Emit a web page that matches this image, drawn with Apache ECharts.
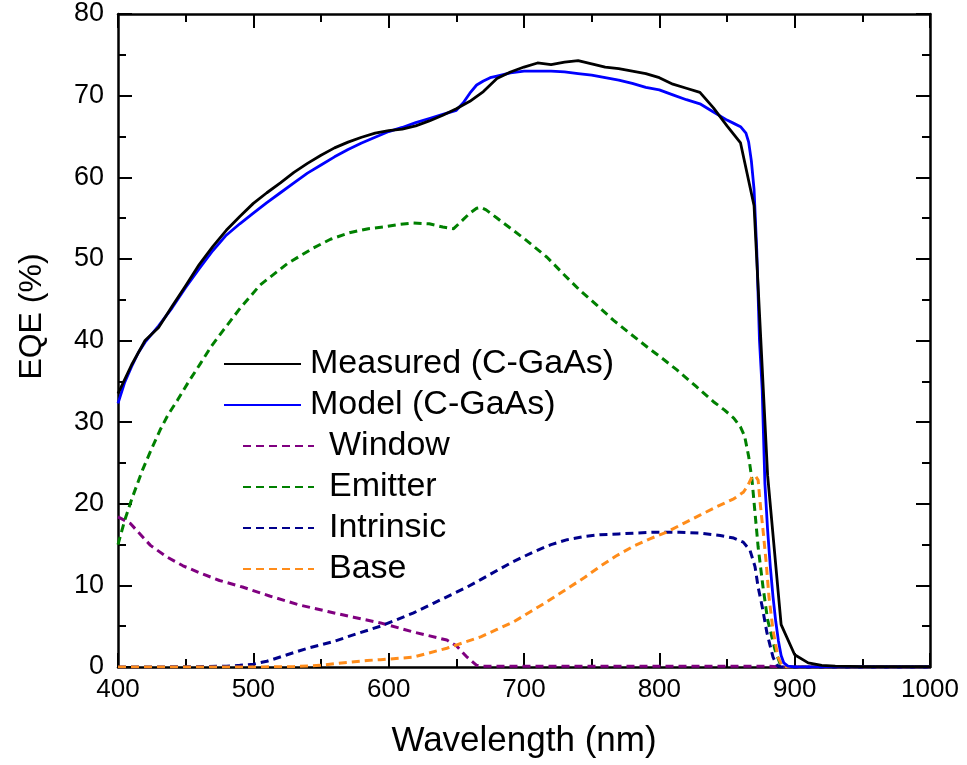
<!DOCTYPE html>
<html>
<head>
<meta charset="utf-8">
<script src="https://cdn.jsdelivr.net/npm/echarts@6/dist/echarts.min.js"></script>
<style>html,body{margin:0;padding:0;background:#fff;}#c{width:967px;height:765px;}</style>
</head>
<body>
<div id="c"></div>
<script>
// ---- data ----
const xTicks = [400, 500, 600, 700, 800, 900, 1000];
const yTicks = [0, 10, 20, 30, 40, 50, 60, 70, 80];

const measuredWl  = [400,410,420,430,440,450,460,470,480,490,500,510,520,530,540,550,560,570,580,590,600,610,620,630,640,650,660,670,680,690,700,710,720,730,740,750,760,770,780,790,800,810,820,830,840,850,860,870,880,890,900,910,920,930,950,1000];
const measuredEqe = [33.5,37.0,40.0,41.6,44.2,46.7,49.3,51.5,53.5,55.2,56.8,58.1,59.3,60.6,61.7,62.7,63.6,64.3,64.9,65.4,65.7,65.9,66.3,66.9,67.6,68.4,69.3,70.5,72.1,72.9,73.5,74.0,73.8,74.1,74.3,73.9,73.5,73.3,73.0,72.7,72.2,71.4,70.9,70.4,68.5,66.3,64.2,56.5,23.5,5.2,1.5,0.5,0.2,0.1,0.05,0.05];

const modelWl  = [400,405,410,415,420,430,440,450,460,470,480,490,500,510,520,530,540,550,560,570,580,590,600,610,620,630,640,650,655,660,665,670,675,680,690,700,710,720,730,740,750,760,770,780,790,800,810,820,830,840,850,855,860,864,866,868,870,872,874,876,878,880,882,884,886,888,890,892,895,900,1000];
const modelEqe = [32.3,34.9,36.8,38.5,39.8,41.8,44.0,46.5,48.8,51.0,52.9,54.3,55.6,56.9,58.1,59.3,60.5,61.5,62.5,63.4,64.2,64.9,65.6,66.1,66.7,67.2,67.7,68.2,69.1,70.3,71.3,71.8,72.2,72.4,72.8,73.0,73.0,73.0,72.9,72.7,72.5,72.2,71.9,71.5,71.0,70.7,70.1,69.5,69.0,68.0,67.0,66.6,66.2,65.4,64.3,62.0,58.5,51.0,40.0,34.0,22.5,16.8,12.3,8.6,5.6,3.2,1.4,0.5,0.1,0,0];

const windowWl  = [400,409,424,436,448,461,475,492,512,534,555,574,594,618,643,650,658,665,670,700,800,880,890,1000];
const windowEqe = [18.4,17.6,14.9,13.5,12.4,11.5,10.6,9.8,8.7,7.6,6.8,6.1,5.4,4.3,3.3,2.6,1.2,0.2,0.1,0.1,0.1,0.1,0,0];

const emitterWl  = [400,405,410,418,425,431,437,444,452,461,469,478,490,505,525,544,557,571,585,596,607,618,630,640,648,655,660,665,668,672,680,692,700,717,730,741,754,766,778,791,803,813,827,840,848,855,860,863,866,868.5,870.7,873,876.6,880,885.5,889,893,900,1000];
const emitterEqe = [15.0,18.0,20.5,24.1,26.8,29.0,30.9,32.7,34.9,37.2,39.3,41.3,43.9,46.8,49.4,51.3,52.4,53.2,53.7,53.9,54.2,54.4,54.3,53.9,53.7,54.8,55.6,56.2,56.3,56.0,55.0,53.5,52.5,50.2,48.0,46.2,44.3,42.5,40.9,39.2,37.7,36.4,34.4,32.5,31.5,30.5,29.4,28.3,25.8,22.9,18.9,14.7,9.8,5.8,2.1,0.5,0.05,0,0];

const intrinsicWl  = [400,450,480,490,500,510,525,540,559,575,594,618,633,643,658,668,682,692,707,720,732,745,756,770,781,795,805,815,830,845,855,862,867,870.7,873,876,879.5,884,887,890,1000];
const intrinsicEqe = [0,0.02,0.1,0.2,0.35,0.7,1.5,2.3,3.1,4.0,5.0,6.6,7.8,8.6,9.8,10.7,12.0,12.9,14.1,15.0,15.6,16.0,16.2,16.3,16.4,16.5,16.5,16.5,16.4,16.1,15.8,15.3,14.3,12.3,9.8,7.4,4.2,1.2,0.2,0,0];

const baseWl  = [400,500,530,549,565,584,594,618,643,668,680,692,705,717,731,745,756,768,781,793,805,818,830,842,855,862,865,868.5,871,873,874.5,876.6,879,881,884,887.7,891,895,1000];
const baseEqe = [0,0,0.05,0.2,0.5,0.8,0.9,1.2,2.3,3.7,4.6,5.5,6.8,8.0,9.5,11.0,12.3,13.6,14.8,15.7,16.5,17.6,18.6,19.6,20.6,21.4,22.1,23.3,23.4,22.9,20.1,16.8,12.7,8.6,4.5,1.2,0.1,0,0];

const names = ['Measured (C-GaAs)', 'Model (C-GaAs)', 'Window', 'Emitter', 'Intrinsic', 'Base'];
const colors = ['#000000', '#0000ff', '#800080', '#008000', '#00008b', '#ff8c1a'];

function pairs(xs, ys) { return xs.map((x, i) => [x, ys[i]]); }

const chart = echarts.init(document.getElementById('c'), null, {renderer: 'canvas'});
const FONT = 'Liberation Sans, Arial, sans-serif';
const dash = [8, 5];

function dashed(i, xs, ys) {
  return {
    name: names[i], type: 'line', symbol: 'none',
    data: pairs(xs, ys), color: colors[i],
    lineStyle: {color: colors[i], width: 3, type: dash, join: 'round'}, z: 2
  };
}

const axisCommon = {
  type: 'value', min: 400, max: 1000, interval: 100,
  axisLine: {show: true, onZero: false, lineStyle: {color: '#000', width: 2.5}},
  axisTick: {show: true, inside: true, length: 14, lineStyle: {color: '#000', width: 2}},
  minorTick: {show: true, splitNumber: 2, length: 8, lineStyle: {color: '#000', width: 2}},
  splitLine: {show: false}
};

const legendText = {fontFamily: FONT, fontSize: 34, color: '#000', lineHeight: 36};

const option = {
  backgroundColor: '#fff',
  animation: false,
  grid: {left: 118, right: 37, top: 14, bottom: 98, containLabel: false},
  legend: [
    {
      data: names.slice(0, 2), orient: 'vertical', left: 223, top: 346, padding: 0,
      itemWidth: 77, itemHeight: 14, itemGap: 5,
      itemStyle: {opacity: 0},
      textStyle: Object.assign({}, legendText, {padding: [0, 0, 0, 4]}),
      selectedMode: false
    },
    {
      data: names.slice(2), orient: 'vertical', left: 242, top: 428, padding: 0,
      itemWidth: 71, itemHeight: 14, itemGap: 5,
      itemStyle: {opacity: 0},
      textStyle: Object.assign({}, legendText, {padding: [0, 0, 0, 10]}),
      selectedMode: false
    }
  ],
  xAxis: [
    Object.assign({}, axisCommon, {
      position: 'bottom',
      name: 'Wavelength (nm)', nameLocation: 'middle', nameGap: 57,
      nameTextStyle: {fontFamily: FONT, fontSize: 35, color: '#000'},
      axisLabel: {show: true, margin: 10, fontFamily: FONT, fontSize: 26, color: '#000',
        customValues: xTicks, formatter: v => String(v)}
    }),
    Object.assign({}, axisCommon, {position: 'top', axisLabel: {show: false}})
  ],
  yAxis: [
    Object.assign({}, axisCommon, {
      min: 0, max: 80, interval: 10, position: 'left',
      name: 'EQE (%)', nameLocation: 'middle', nameGap: 70,
      nameTextStyle: {fontFamily: FONT, fontSize: 32, color: '#000', padding: [0, 0, 0, 48]},
      axisLabel: {show: true, margin: 14, fontFamily: FONT, fontSize: 27, color: '#000',
        customValues: yTicks, formatter: v => String(v)}
    }),
    Object.assign({}, axisCommon, {min: 0, max: 80, interval: 10, position: 'right', axisLabel: {show: false}})
  ],
  series: [
    dashed(2, windowWl, windowEqe),
    dashed(3, emitterWl, emitterEqe),
    dashed(4, intrinsicWl, intrinsicEqe),
    dashed(5, baseWl, baseEqe),
    {name: names[1], type: 'line', symbol: 'none',
     data: pairs(modelWl, modelEqe), color: colors[1],
     lineStyle: {color: colors[1], width: 2.8, join: 'round'}, z: 3},
    {name: names[0], type: 'line', symbol: 'none', data: pairs(measuredWl, measuredEqe), color: colors[0],
     lineStyle: {color: colors[0], width: 2.8, join: 'round'}, z: 4}
  ]
};
chart.setOption(option);
</script>
</body>
</html>
